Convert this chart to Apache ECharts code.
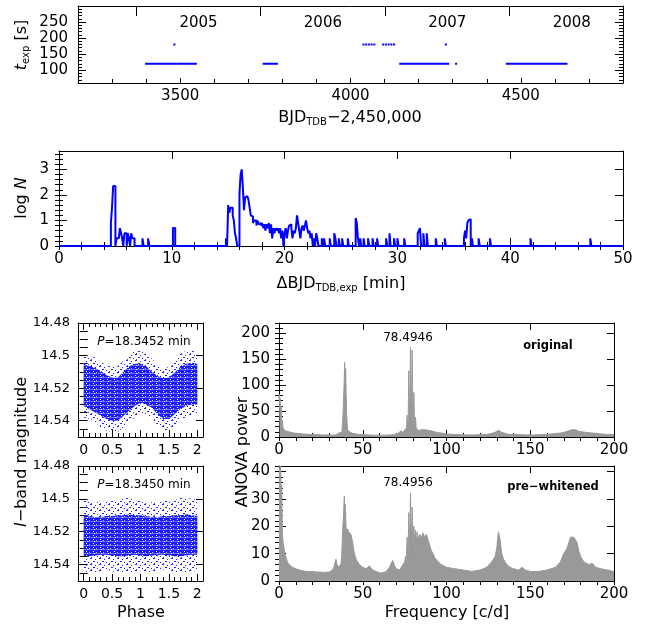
<!DOCTYPE html>
<html><head><meta charset="utf-8">
<script src="https://cdn.jsdelivr.net/npm/echarts@6/dist/echarts.min.js"></script>
<style>html,body{margin:0;padding:0;background:#fff}#c{width:655px;height:627px}</style>
</head><body><div id="c"></div>
<script>
// ---------------- DATA ----------------
// Panel 1: exposure time vs BJD
const exp120Segments = [[3400,3485],[3491,3546],[3745,3784],[4146,4265],[4270,4287],[4310,4310],[4459,4634]];
const exp180Points = [3483,4038,4046,4054,4062,4070,4096,4104,4112,4120,4128,4280];
const yearLabels = ['2005','2006','2007','2008'];
const yearBoundaries = [3371.5,3736.5,4101.5,4466.5,4832.5];
const bjdTicks = [3500,4000,4500];
const texpTicks = [100,150,200,250];

// Panel 2: histogram of time differences (bin left edge [min], log N), bin width 0.1 min
const histBinWidth = 0.1;
const histBins = [[4.6,0.9],[4.7,1.5],[4.8,2.35],[4.9,2.35],
 [5.1,0.3],[5.2,0.3],[5.3,0.3],[5.4,0.7],[5.5,0.5],[5.6,0.3],[5.8,0.5],[5.9,0.5],[6.1,0.5],[6.2,0.3],[6.4,0.5],[6.5,0.3],[6.6,0.3],
 [7.4,0.3],[7.9,0.3],[10.1,0.7],[10.2,0.7],[14.8,0.3],
 [15.0,1.6],[15.1,1.3],[15.2,1.5],[15.3,1.5],[15.4,1.2],[15.5,1.0],[15.6,0.5],[15.7,0.3],
 [16.0,2.05],[16.1,2.8],[16.2,3.0],[16.3,2.3],[16.4,1.4],[16.5,1.9],[16.6,1.95],[16.7,1.95],[16.8,1.8],[16.9,1.5],
 [17.0,1.2],[17.1,1.15],[17.2,0.9],[17.3,1.0],[17.4,1.0],[17.5,0.8],[17.6,1.0],[17.7,0.85],[17.8,0.9],[17.9,0.8],
 [18.0,0.9],[18.1,0.7],[18.2,0.85],[18.3,0.6],[18.4,0.85],[18.5,0.7],[18.6,0.9],[18.7,0.5],[18.8,0.85],[18.9,0.3],
 [19.0,0.7],[19.1,0.5],[19.2,0.7],[19.3,0.6],[19.4,0.7],[19.5,0.5],[19.6,0.7],[19.7,0.3],[19.8,0.6],
 [20.0,0.5],[20.1,0.7],[20.2,0.3],[20.3,0.6],[20.4,0.8],[20.5,0.85],[20.6,0.7],[20.7,0.3],[20.8,0.6],[20.9,0.5],
 [21.0,0.7],[21.1,1.2],[21.2,0.9],[21.3,0.6],[21.4,0.3],[21.5,0.7],[21.6,0.8],[21.7,0.6],[21.8,0.8],[21.9,1.0],
 [22.0,0.7],[22.1,0.5],[22.2,0.6],[22.3,0.3],[22.4,0.5],[22.6,0.3],[22.8,0.5],[22.9,0.3],
 [23.3,0.3],[23.5,0.3],[24.0,0.3],[24.4,0.5],[24.5,0.3],[24.8,0.3],[25.1,0.3],[25.6,0.3],[26.3,1.1],[26.4,0.9],[26.5,0.3],
 [26.7,0.3],[27.0,0.3],[27.4,0.3],[27.8,0.3],[28.2,0.3],[29.0,0.3],[29.3,0.5],[29.7,0.3],[30.0,0.3],[30.6,0.3],
 [31.8,0.5],[31.9,0.6],[32.0,0.7],[32.3,0.5],[32.6,0.5],[33.4,0.3],[34.2,0.3],
 [35.9,0.3],[36.0,0.6],[36.1,0.3],[36.2,0.9],[36.3,1.0],[36.4,1.05],[36.6,0.3],[37.2,0.3],[38.2,0.3],[41.8,0.3],[47.1,0.3]];
const dtTicks = [0,10,20,30,40,50];
const logNTicks = [0,1,2,3];

// Panels 3-4: phased light curves, envelopes of the point cloud (phase grid 0..2 step 0.1)
const phaseGrid = [0,0.1,0.2,0.3,0.4,0.5,0.6,0.7,0.8,0.9,1.0,1.1,1.2,1.3,1.4,1.5,1.6,1.7,1.8,1.9,2.0];
const magOuterTopA = [14.500,14.501,14.501,14.504,14.506,14.507,14.5065,14.503,14.499,14.497,14.497,14.499,14.502,14.506,14.508,14.507,14.503,14.499,14.497,14.4965,14.499];
const magDenseTopA = [14.505,14.5065,14.5075,14.5095,14.512,14.5135,14.5135,14.510,14.5065,14.505,14.505,14.5065,14.510,14.5125,14.514,14.5135,14.5105,14.507,14.505,14.5045,14.505];
const magDenseBotA = [14.531,14.533,14.535,14.537,14.539,14.540,14.540,14.537,14.534,14.531,14.529,14.530,14.532,14.536,14.539,14.539,14.536,14.533,14.531,14.530,14.530];
const magOuterBotA = [14.538,14.539,14.541,14.544,14.546,14.547,14.547,14.544,14.541,14.538,14.535,14.536,14.538,14.543,14.546,14.546,14.543,14.539,14.538,14.537,14.536];
const magOuterTopB = [14.501,14.502,14.502,14.502,14.5015,14.501,14.501,14.4995,14.4995,14.500,14.501,14.502,14.502,14.502,14.501,14.501,14.501,14.4995,14.4995,14.500,14.5005];
const magDenseTopB = [14.510,14.5105,14.511,14.511,14.5105,14.5105,14.510,14.510,14.5095,14.510,14.510,14.5105,14.511,14.511,14.5105,14.5105,14.510,14.510,14.5095,14.510,14.5105];
const magDenseBotB = [14.5345,14.535,14.5345,14.534,14.534,14.5345,14.535,14.535,14.5345,14.534,14.5345,14.535,14.5345,14.534,14.534,14.5345,14.535,14.535,14.5345,14.534,14.534];
const magOuterBotB = [14.544,14.545,14.545,14.544,14.543,14.544,14.545,14.545,14.545,14.544,14.544,14.545,14.545,14.544,14.543,14.544,14.545,14.545,14.545,14.544,14.544];
const phaseTicks = [0,0.5,1,1.5,2];
const magTicks = [14.48,14.5,14.52,14.54];
const periodLabels = ['18.3452','18.3450'];

// Panels 5-6: ANOVA periodograms [frequency c/d, power]
const anovaOriginal = [[0,70],[0.2,82],[0.4,55],[0.7,75],[1.0,40],[1.3,60],[1.6,25],[2.0,32],[2.4,18],[3,20],[3.5,12],[4,14],[4.5,9],[5,11],[6,8],[7,9],[8,8],[9,7.5],[10,8],[11,7],[12,6.5],[14,6],[16,5.5],[18,5],[20,5],[22,4.5],[24,4.5],[26,4],[28,4],[30,4],[32,3.5],[34,4],[35,5],[36,8],[36.5,6],[37,10],[37.5,9],[38,30],[38.3,50],[38.6,78],[38.9,105],[39.2,144],[39.5,100],[39.8,132],[40.1,80],[40.4,45],[40.7,25],[41,14],[41.5,12],[42,10],[43,8],[44,7],[46,6],[48,5],[50,4.5],[53,4],[56,3.5],[60,3.5],[64,3.5],[67,4],[69,5],[70,6],[71,7],[72,9],[73,12],[74,8],[75,10],[75.5,16],[76,8],[76.5,42],[77,10],[77.5,128],[78,12],[78.5,173],[79,14],[79.5,168],[80,13],[80.5,86],[81,12],[81.5,38],[82,12],[82.5,16],[83,12],[84,13],[85,14],[86,15],[87,14],[88,15],[89,13],[90,12],[92,11],[94,9],[96,8],[98,7],[100,6],[104,5],[108,4.5],[112,4],[116,4],[120,4.5],[124,5],[127,7],[129,9],[130,11],[131,13],[132,11],[133,9],[134,7],[136,6],[138,5],[140,5],[144,4.5],[148,4],[152,4],[156,4.5],[160,5],[163,6],[166,7],[169,8],[171,10],[173,12],[175,14],[176,15],[177,14],[178,12],[179,11],[181,10],[183,9],[186,8],[189,7],[192,6],[196,5],[200,5]];
const anovaWhitened = [[0,42],[0.3,42],[0.6,40],[1.0,42],[1.3,30],[1.6,35],[2.0,17],[2.5,14],[3,12],[3.5,10],[4,9],[5,7],[6,6],[7,5.5],[8,5],[10,4.5],[12,4],[14,3.8],[16,3.5],[18,3.5],[20,3.5],[22,3.3],[24,3.3],[26,3.2],[28,3.2],[30,3.3],[31,3.5],[32,4],[33,5.5],[34,8],[35,5],[36,4.5],[37,6],[37.5,10],[38,18],[38.5,24],[39,31],[39.3,24],[39.6,28],[40,20],[40.5,18],[41,19],[41.5,18],[42,18.5],[43,17],[44,14],[45,10],[46,8],[47,7],[48,6],[50,5],[52,4.5],[54,5.5],[55,5],[56,4],[58,3.5],[60,3],[62,3],[64,3.5],[66,5],[67,6.5],[68,7.5],[69,5.5],[70,4.5],[72,4],[73,4.5],[74,6],[75,7],[75.5,9],[76,8],[76.5,16],[77,9],[77.5,25],[78,11],[78.5,32],[79,12],[79.5,27],[80,12],[80.5,20],[81,13],[81.5,18.5],[82,14],[82.5,18],[83,15],[84,17],[85,16],[86,17.5],[87,16],[88,17],[89,15],[90,13],[91,11],[92,10],[93,8.5],[95,7],[97,6],[100,5],[105,4.5],[110,4],[115,3.5],[120,4],[124,5],[127,7],[129,9],[130,12],[131,18],[132,15],[133,10],[134,8],[136,6],[138,5],[140,4.5],[143,4],[145,5],[147,4],[150,3.5],[155,3.5],[160,4],[165,5],[168,7],[170,10],[172,12],[173,14],[174,16],[175,15.5],[176,16],[177,15.5],[178,14],[179,11],[180,9],[182,7],[185,6],[187,6.5],[189,5],[192,4.5],[196,4],[200,3.5]];
const peakLabels = ['78.4946','78.4956'];
const panelTags = ['original','pre\u2212whitened'];
const freqTicks = [0,50,100,150,200];
const powerTicksA = [0,50,100,150,200];
const powerTicksB = [0,10,20,30,40];

// ---------------- HELPERS ----------------
const FONT = '"DejaVu Sans", sans-serif';
const BLUE = '#0000ff', GRAY = '#999999';
function range(a, b, s) { const r = []; const n = Math.round((b - a) / s); for (let i = 0; i <= n; i++) r.push(+(a + i * s).toFixed(6)); return r; }
const fmt = v => String(+(+v).toFixed(4));

const grids = [
  {left:78, top:6, width:545, height:77},
  {left:59, top:151, width:564, height:95},
  {left:78, top:323, width:125, height:114},
  {left:78, top:466, width:125, height:115},
  {left:279, top:323, width:335, height:114},
  {left:279, top:466, width:335, height:115}
].map(g => Object.assign(g, {containLabel:false, outerBoundsMode:'none', show:false}));

const xAxes = [], yAxes = [];
function makeAxes(list, dim, gridIndex, c) {
  const posA = dim === 'x' ? 'bottom' : 'left', posB = dim === 'x' ? 'top' : 'right';
  const base = {type:'value', gridIndex, min:c.min, max:c.max, inverse:!!c.inverse, scale:true,
    splitLine:{show:false}, splitArea:{show:false}, silent:true, axisPointer:{show:false}};
  const line = {show:true, onZero:false, lineStyle:{color:'#000', width:1}};
  const tick = (vals, len) => ({show: !!(vals && vals.length), inside:true, length:len, customValues: vals || [], lineStyle:{color:'#000', width:1}});
  const first = list.length;
  list.push(Object.assign({}, base, {position:posA, axisLine:line, axisTick:tick(c.major, c.majorLen),
    axisLabel:{show:true, customValues:c.labels, formatter:fmt, margin:c.margin, fontSize:c.fontSize || 15, fontFamily:FONT, color:'#000', showMinLabel:true, showMaxLabel:true, hideOverlap:false}}));
  list.push(Object.assign({}, base, {position:posA, axisLine:{show:false}, axisTick:tick(c.minor, c.minorLen), axisLabel:{show:false}}));
  list.push(Object.assign({}, base, {position:posB, axisLine:line, axisTick:tick(c.oppMajor || c.major, c.oppMajorLen || c.majorLen), axisLabel:{show:false}}));
  list.push(Object.assign({}, base, {position:posB, axisLine:{show:false}, axisTick:tick(c.oppMinor || c.minor, c.minorLen), axisLabel:{show:false}}));
  return first;
}

// panel 1
const X0 = makeAxes(xAxes, 'x', 0, {min:3200, max:4800, labels:bjdTicks, major:bjdTicks, majorLen:5, minor:range(3200,4800,100), minorLen:4, oppMajor:yearBoundaries.slice(0,4), oppMajorLen:10, oppMinor:[], margin:6, fontSize:15});
const Y0 = makeAxes(yAxes, 'y', 0, {min:60, max:300, labels:texpTicks, major:texpTicks, majorLen:8, minor:range(60,300,10), minorLen:4, margin:10, fontSize:15});
// panel 2
const X1 = makeAxes(xAxes, 'x', 1, {min:0, max:50, labels:dtTicks, major:dtTicks, majorLen:8, minor:range(0,50,2), minorLen:4, margin:6, fontSize:15});
const Y1 = makeAxes(yAxes, 'y', 1, {min:0, max:3.72, labels:logNTicks, major:logNTicks, majorLen:8, minor:range(0,3.6,0.2), minorLen:4, margin:10, fontSize:15});
// panels 3-4
const X2 = makeAxes(xAxes, 'x', 2, {min:-0.1, max:2.1, labels:phaseTicks, major:phaseTicks, majorLen:7, minor:range(-0.1,2.1,0.1), minorLen:4, margin:6, fontSize:14});
const Y2 = makeAxes(yAxes, 'y', 2, {min:14.48, max:14.55, inverse:true, labels:magTicks, major:magTicks, majorLen:7, minor:range(14.48,14.55,0.005), minorLen:4, margin:8, fontSize:13});
const X3 = makeAxes(xAxes, 'x', 3, {min:-0.1, max:2.1, labels:phaseTicks, major:phaseTicks, majorLen:7, minor:range(-0.1,2.1,0.1), minorLen:4, margin:6, fontSize:14});
const Y3 = makeAxes(yAxes, 'y', 3, {min:14.48, max:14.55, inverse:true, labels:magTicks, major:magTicks, majorLen:7, minor:range(14.48,14.55,0.005), minorLen:4, margin:8, fontSize:13});
// panels 5-6
const X4 = makeAxes(xAxes, 'x', 4, {min:0, max:200, labels:freqTicks, major:freqTicks, majorLen:7, minor:range(0,200,10), minorLen:4, margin:6, fontSize:15});
const Y4 = makeAxes(yAxes, 'y', 4, {min:0, max:220, labels:powerTicksA, major:powerTicksA, majorLen:7, minor:range(0,220,10), minorLen:4, margin:9, fontSize:15});
const X5 = makeAxes(xAxes, 'x', 5, {min:0, max:200, labels:freqTicks, major:freqTicks, majorLen:7, minor:range(0,200,10), minorLen:4, margin:6, fontSize:15});
const Y5 = makeAxes(yAxes, 'y', 5, {min:0, max:42, labels:powerTicksB, major:powerTicksB, majorLen:7, minor:range(0,42,2), minorLen:4, margin:9, fontSize:15});

// histogram outline (step) from bins
function histOutline(bins, w, xmin, xmax) {
  const pts = [[xmin, 0]];
  let prevEnd = null;
  bins.forEach(([l, v]) => {
    if (prevEnd === null || Math.abs(l - prevEnd) > 1e-6) {
      if (prevEnd !== null) pts.push([prevEnd, 0]);
      pts.push([l, 0]);
    }
    pts.push([l, v], [+(l + w).toFixed(6), v]);
    prevEnd = +(l + w).toFixed(6);
  });
  pts.push([prevEnd, 0], [xmax, 0]);
  return pts;
}

// patterns for the dense/sparse parts of the phased point clouds
function pattern(w, h, bg, px) {
  const c = document.createElement('canvas'); c.width = w; c.height = h;
  const g = c.getContext('2d');
  if (bg) { g.fillStyle = bg; g.fillRect(0, 0, w, h); }
  px.forEach(p => { g.fillStyle = p[2]; g.fillRect(p[0], p[1], p[3] || 1, 1); });
  return {image: c, repeat: 'repeat'};
}
const densePat = pattern(7, 4, '#1a1aff', [[0,1,'#6a6aff',7],[2,3,'#ffffff'],[5,0,'#c8c8ff'],[3,1,'#ffffff']]);
const sparsePat = pattern(9, 6, null, [[0,0,'#2020ff',2],[5,1,'#2020ff'],[3,3,'#2020ff',2],[7,4,'#2020ff'],[1,5,'#4040ff']]);

function cloudSeries(xi, yi, top, dTop, dBot, bot) {
  const rows = phaseGrid.map((p, i) => [p, top[i], dTop[i], dBot[i], bot[i]]);
  return {
    type:'custom', xAxisIndex:xi, yAxisIndex:yi, data:rows, silent:true, clip:true,
    encode:{x:0, y:[1,4]},
    renderItem: function (params, api) {
      if (params.dataIndex !== 0) return null;
      const outer = [], inner = [];
      rows.forEach(r => { outer.push(api.coord([r[0], r[1]])); inner.push(api.coord([r[0], r[2]])); });
      for (let i = rows.length - 1; i >= 0; i--) { outer.push(api.coord([rows[i][0], rows[i][4]])); inner.push(api.coord([rows[i][0], rows[i][3]])); }
      return {type:'group', children:[
        {type:'polygon', shape:{points:outer}, style:{fill:sparsePat}},
        {type:'polygon', shape:{points:inner}, style:{fill:densePat}}
      ]};
    }
  };
}

const texpData = exp120Segments.map(s => [s[0], s[1], 120]).concat(exp180Points.map(x => [x, x, 180]));

const series = [
  {type:'custom', xAxisIndex:X0, yAxisIndex:Y0, data:texpData, silent:true, encode:{x:[0,1], y:2},
    renderItem: function (params, api) {
      const t = api.value(2);
      const a = api.coord([api.value(0), t]), b = api.coord([api.value(1), t]);
      const h = 2;
      return {type:'rect', shape:{x:a[0] - 1, y:a[1] - h / 2, width:Math.max(b[0] - a[0] + 2, 2), height:h}, style:{fill:BLUE}};
    }},
  {type:'custom', xAxisIndex:X0, yAxisIndex:Y0, data:yearLabels.map((y, i) => [(yearBoundaries[i] + yearBoundaries[i + 1]) / 2, 280]), silent:true,
    renderItem: function (params, api) {
      const p = api.coord([api.value(0), api.value(1)]);
      return {type:'text', x:p[0], y:params.coordSys.y + 17, style:{text:yearLabels[params.dataIndex], font:'15px ' + FONT, fill:'#000', align:'center', verticalAlign:'middle'}};
    }},
  {type:'line', xAxisIndex:X1, yAxisIndex:Y1, data:histOutline(histBins, histBinWidth, 0, 50), symbol:'none', showSymbol:false,
    lineStyle:{color:BLUE, width:2}, clip:false, silent:true, z:5},
  cloudSeries(X2, Y2, magOuterTopA, magDenseTopA, magDenseBotA, magOuterBotA),
  cloudSeries(X3, Y3, magOuterTopB, magDenseTopB, magDenseBotB, magOuterBotB),
  {type:'line', xAxisIndex:X4, yAxisIndex:Y4, data:anovaOriginal, symbol:'none', showSymbol:false,
    lineStyle:{color:GRAY, width:1}, areaStyle:{color:GRAY, opacity:1, origin:'start'}, silent:true},
  {type:'line', xAxisIndex:X5, yAxisIndex:Y5, data:anovaWhitened, symbol:'none', showSymbol:false,
    lineStyle:{color:GRAY, width:1}, areaStyle:{color:GRAY, opacity:1, origin:'start'}, silent:true}
];

// ---------------- TEXT ----------------
const rich16 = {
  m:{fontFamily:FONT, fontSize:16, color:'#000'},
  i:{fontFamily:FONT, fontSize:16, fontStyle:'italic', color:'#000'},
  s:{fontFamily:FONT, fontSize:10, color:'#000', padding:[8,0,0,0]}
};
const rich12 = {
  m:{fontFamily:FONT, fontSize:12, color:'#000'},
  i:{fontFamily:FONT, fontSize:12, fontStyle:'italic', color:'#000'}
};
function gtext(x, y, text, o) {
  o = o || {};
  return {type:'text', x:x, y:y, rotation:o.rot || 0, silent:true, z:100,
    style:{text:text, rich:o.rich, font:o.font || ('16px ' + FONT), fill:'#000', align:'center', verticalAlign:'middle', textAlign:'center', textVerticalAlign:'middle'}};
}
const graphics = [
  gtext(22, 45, '{i|t}{s|exp}{m| [s]}', {rich:rich16, rot:Math.PI / 2}),
  gtext(350, 118, '{m|BJD}{s|TDB}{m|\u22122,450,000}', {rich:rich16}),
  gtext(22, 198, '{m|log }{i|N}', {rich:rich16, rot:Math.PI / 2}),
  gtext(341, 284, '{m|\u0394BJD}{s|TDB,exp}{m| [min]}', {rich:rich16}),
  gtext(22, 452, '{i|I}{m|\u2212band magnitude}', {rich:rich16, rot:Math.PI / 2}),
  gtext(243, 452, 'ANOVA power', {rot:Math.PI / 2}),
  gtext(141, 613, 'Phase'),
  gtext(447, 613, 'Frequency [c/d]'),
  gtext(144, 342, '{i|P}{m|=' + periodLabels[0] + ' min}', {rich:rich12}),
  gtext(144, 485, '{i|P}{m|=' + periodLabels[1] + ' min}', {rich:rich12}),
  gtext(408, 338, peakLabels[0], {font:'12px ' + FONT}),
  gtext(408, 483, peakLabels[1], {font:'12px ' + FONT}),
  gtext(548, 346, panelTags[0], {font:'bold 11.5px ' + FONT}),
  gtext(553, 487, panelTags[1], {font:'bold 11.5px ' + FONT})
];

const chart = echarts.init(document.getElementById('c'), null, {renderer:'canvas', width:655, height:627});
chart.setOption({
  animation:false,
  backgroundColor:'#ffffff',
  grid:grids,
  xAxis:xAxes,
  yAxis:yAxes,
  series:series,
  graphic:{elements:graphics}
});
</script></body></html>
